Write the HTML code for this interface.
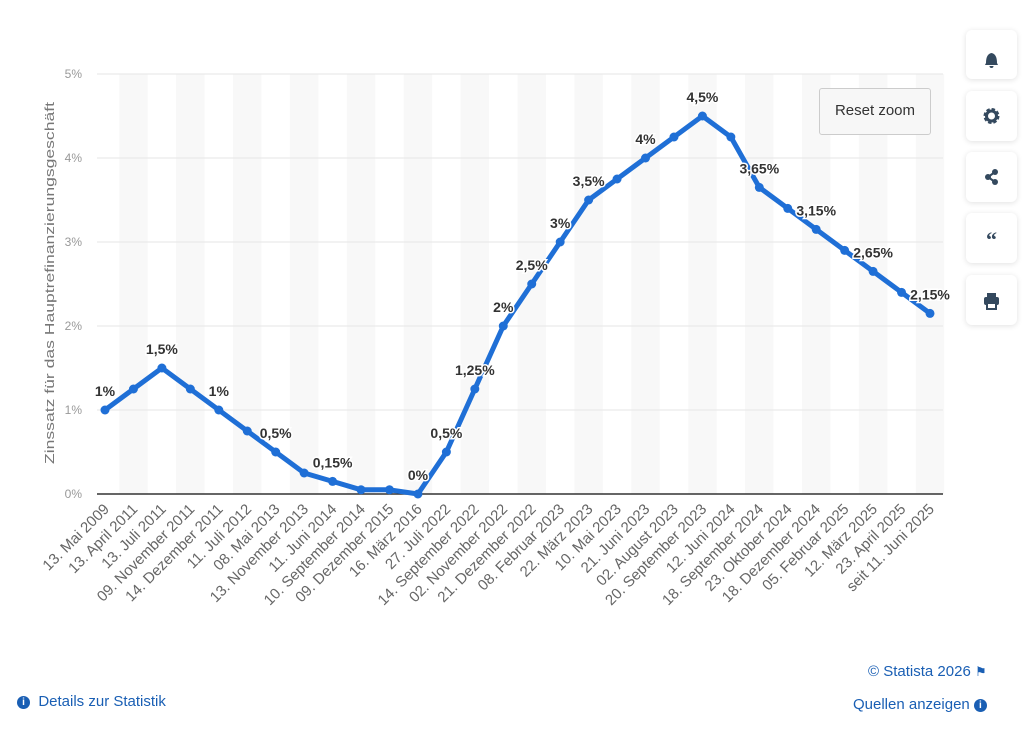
<!DOCTYPE html>
<html><head><meta charset="utf-8"><style>
body{margin:0;background:#fff;font-family:"Liberation Sans",sans-serif;}
#wrap{position:relative;width:1024px;height:733px;overflow:hidden;}
.btn{position:absolute;left:966px;width:51px;height:50px;background:#fff;border-radius:6px;box-shadow:0 1px 6px rgba(0,0,0,0.12);}
.foot{position:absolute;color:#1a5fb4;font-size:15px;}
</style></head><body>
<div id="wrap">
<svg id="chart" width="1024" height="733" style="position:absolute;left:0;top:0"></svg>
<div class="btn" style="top:30px;height:49px"><svg width="51" height="49"><path d="M20 33 Q20 24 25.5 23 Q31 24 31 33 L32 35 L19 35Z M23.5 36 h4 a2 2 0 0 1 -4 0" fill="#34495e"/></svg></div>
<div class="btn" style="top:91px"><svg width="51" height="50"><circle cx="25.5" cy="25" r="6" fill="none" stroke="#34495e" stroke-width="4" stroke-dasharray="3 1.7"/><circle cx="25.5" cy="25" r="5" fill="none" stroke="#34495e" stroke-width="3"/></svg></div>
<div class="btn" style="top:152px"><svg width="51" height="50"><path d="M29 20 L22 25 L29 30" stroke="#34495e" stroke-width="2" fill="none"/><circle cx="29" cy="20" r="3" fill="#34495e"/><circle cx="22" cy="25" r="3" fill="#34495e"/><circle cx="29" cy="30" r="3" fill="#34495e"/></svg></div>
<div class="btn" style="top:213px"><svg width="51" height="50"><text x="25.5" y="34" text-anchor="middle" font-size="22" font-weight="bold" fill="#34495e" font-family="Liberation Serif">“</text></svg></div>
<div class="btn" style="top:275px"><svg width="51" height="50"><rect x="18" y="22" width="15" height="8" rx="2" fill="#34495e"/><rect x="21" y="18" width="9" height="4" fill="#34495e"/><rect x="21" y="28" width="9" height="6" fill="#fff" stroke="#34495e" stroke-width="2"/></svg></div>
<div style="position:absolute;left:819px;top:88px;width:110px;height:45px;border:1px solid #ccc;border-radius:3px;background:#f7f7f7;font-size:15px;color:#333;line-height:44px;text-align:center">Reset zoom</div>
<div class="foot" style="left:868px;top:663px">© Statista 2026 <span style="font-size:13px">⚑</span></div>
<div class="foot" style="left:17px;top:693px"><span style="display:inline-block;width:13px;height:13px;border-radius:50%;background:#1a5fb4;color:#fff;font-size:10px;text-align:center;line-height:13px;font-weight:bold;vertical-align:1px">i</span>&nbsp; Details zur Statistik</div>
<div class="foot" style="left:853px;top:696px">Quellen anzeigen <span style="display:inline-block;width:13px;height:13px;border-radius:50%;background:#1a5fb4;color:#fff;font-size:10px;text-align:center;line-height:13px;font-weight:bold;vertical-align:1px">i</span></div>
</div>
<script>
const categories=["13. Mai 2009","13. April 2011","13. Juli 2011","09. November 2011","14. Dezember 2011","11. Juli 2012","08. Mai 2013","13. November 2013","11. Juni 2014","10. September 2014","09. Dezember 2015","16. März 2016","27. Juli 2022","14. September 2022","02. November 2022","21. Dezember 2022","08. Februar 2023","22. März 2023","10. Mai 2023","21. Juni 2023","02. August 2023","20. September 2023","12. Juni 2024","18. September 2024","23. Oktober 2024","18. Dezember 2024","05. Februar 2025","12. März 2025","23. April 2025","seit 11. Juni 2025"];
const values=[1,1.25,1.5,1.25,1,0.75,0.5,0.25,0.15,0.05,0.05,0,0.5,1.25,2,2.5,3,3.5,3.75,4,4.25,4.5,4.25,3.65,3.4,3.15,2.9,2.65,2.4,2.15];
const labeledIdx=[0,2,4,6,8,11,12,13,14,15,16,17,19,21,23,25,27,29];
const yTicks=[0,1,2,3,4,5];
const NS="http://www.w3.org/2000/svg",svg=document.getElementById('chart');
const x0=105,x1=930,yB=494,yT=74,gL=97,gR=943;
const xs=i=>x0+(x1-x0)*i/(categories.length-1);
const ys=v=>yB-(yB-yT)*v/5;
const step=(x1-x0)/(categories.length-1);
function mk(t,a,txt){const e=document.createElementNS(NS,t);for(const k in a)e.setAttribute(k,a[k]);if(txt!=null)e.textContent=txt;svg.appendChild(e);return e;}
const fmt=v=>String(v).replace('.',',')+'%';
categories.forEach((c,i)=>{if(i%2==1){const r=mk('rect',{x:xs(i)-step/2,y:yT,width:step,height:yB-yT,fill:'#f8f8f8'});

}});
yTicks.forEach(t=>{const l=mk('line',{x1:gL,x2:gR,y1:ys(t),y2:ys(t),stroke:t==0?'#333':'#e6e6e6','stroke-width':t==0?1.5:1});


const tx=mk('text',{x:82,y:ys(t)+4,'text-anchor':'end','font-size':12,fill:'#999'},t+'%');

});
const yt=mk('text',{x:0,y:0,transform:'translate(54,283) rotate(-90)','text-anchor':'middle','font-size':13,fill:'#777',textLength:362,lengthAdjust:'spacingAndGlyphs'},'Zinssatz für das Hauptrefinanzierungsgeschäft');


categories.forEach((c,i)=>{const t=mk('text',{x:0,y:0,transform:`translate(${xs(i)+5},${yB+16}) rotate(-45)`,'text-anchor':'end','font-size':15,fill:'#666'},c);

});
const line=mk('polyline',{points:values.map((v,i)=>xs(i)+','+ys(v)).join(' '),fill:'none',stroke:'#1f6fd6','stroke-width':5,'stroke-linejoin':'round'});


values.forEach((v,i)=>{const p=mk('circle',{cx:xs(i),cy:ys(v),r:4.5,fill:'#1f6fd6'});

});
labeledIdx.forEach(i=>{const t=mk('text',{x:xs(i),y:ys(values[i])-14,'text-anchor':'middle','font-size':14,'font-weight':'bold',fill:'#333',stroke:'#fff','stroke-width':3,'paint-order':'stroke'},fmt(values[i]));

});
</script>
</body></html>
